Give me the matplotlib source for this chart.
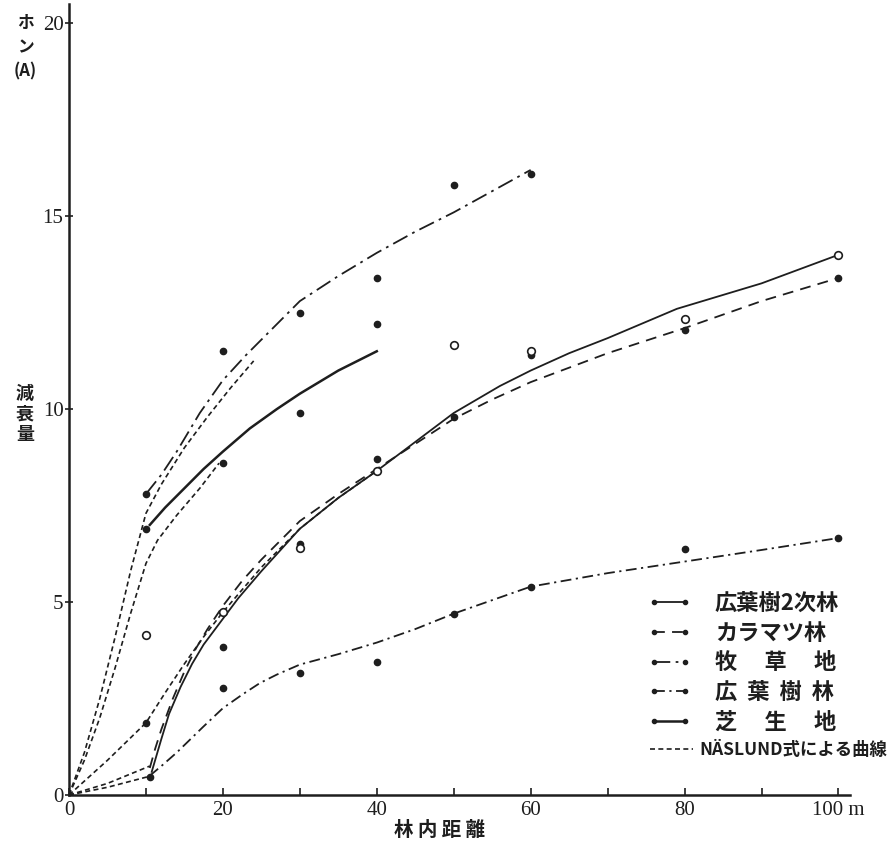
import matplotlib
matplotlib.use("Agg")
import matplotlib.pyplot as plt
from matplotlib.lines import Line2D

plt.rcParams['font.family'] = ['Noto Sans CJK JP', 'DejaVu Sans']

# ---------------- data ----------------
# measured points
top_x = [10, 20, 30, 40, 50, 60]                      # 牧草地
top_y = [7.8, 11.5, 12.5, 13.4, 15.8, 16.1]
shiba_x = [10, 20, 30, 40]                            # 芝生地
shiba_y = [6.9, 8.6, 9.9, 12.2]
niji_x = [10, 20, 30, 40, 50, 60, 80, 100]            # 広葉樹2次林 (open circles)
niji_y = [4.15, 4.74, 6.4, 8.4, 11.66, 11.5, 12.33, 14.0]
kara_x = [10, 20, 30, 40, 50, 60, 80, 100]            # カラマツ林
kara_y = [1.87, 3.84, 6.5, 8.7, 9.8, 11.4, 12.05, 13.4]
kouyou_x = [10.5, 20, 30, 40, 50, 60, 80, 100]        # 広葉樹林
kouyou_y = [0.47, 2.77, 3.16, 3.45, 4.7, 5.4, 6.37, 6.66]

# drawn curves
c_top_x = [10, 12, 14, 17, 20, 23, 26, 30, 35, 40, 45, 50, 55, 60]
c_top_y = [7.8, 8.3, 8.9, 9.9, 10.75, 11.4, 12.0, 12.8, 13.45, 14.05, 14.6, 15.1, 15.65, 16.2]
c_shiba_x = [10.5, 12.5, 15, 17.5, 20, 23.5, 27, 30, 35, 40]
c_shiba_y = [7.0, 7.45, 7.95, 8.45, 8.9, 9.5, 10.0, 10.4, 11.0, 11.5]
c_niji_x = [10.75, 12, 13, 14.5, 16, 17.5, 19, 22, 25, 30, 35, 40, 45, 50, 56, 60, 65, 70, 79, 90, 100]
c_niji_y = [0.6, 1.45, 2.1, 2.8, 3.4, 3.9, 4.3, 5.1, 5.8, 6.9, 7.7, 8.4, 9.15, 9.9, 10.6, 11.0, 11.45, 11.84, 12.6, 13.26, 14.0]
c_kara_x = [10.5, 11.2, 12, 13.5, 15, 16.5, 18, 20, 22.5, 25, 30, 35, 40, 45, 50, 55, 60, 70, 80, 90, 100]
c_kara_y = [0.7, 1.2, 1.7, 2.5, 3.2, 3.8, 4.3, 4.9, 5.55, 6.1, 7.1, 7.8, 8.45, 9.1, 9.75, 10.25, 10.7, 11.45, 12.1, 12.8, 13.4]
c_kouyou_x = [10.5, 12, 14, 17.4, 20, 22.5, 24.8, 27, 30, 35, 40, 45, 50, 55, 60, 70, 80, 90, 100]
c_kouyou_y = [0.5, 0.75, 1.1, 1.76, 2.25, 2.6, 2.9, 3.12, 3.38, 3.65, 3.95, 4.3, 4.7, 5.05, 5.4, 5.75, 6.05, 6.35, 6.66]

# NÄSLUND curves
n1_x = [0, 2, 4, 6, 8, 10, 12, 15, 18, 21, 24]
n1_y = [0, 1.1, 2.5, 4.1, 5.8, 7.3, 8.05, 9.0, 9.8, 10.55, 11.25]
n2_x = [0, 2, 4, 6, 8, 10, 11.5, 14, 17, 19.5]
n2_y = [0, 0.9, 2.0, 3.3, 4.7, 6.0, 6.6, 7.25, 7.95, 8.6]
n3_x = [0, 5, 10, 12.5, 15, 17.5, 20, 25, 30, 35, 40]
n3_y = [0, 0.9, 1.87, 2.65, 3.4, 4.1, 4.74, 5.9, 6.9, 7.7, 8.4]
n4_x = [0, 5, 10.5]
n4_y = [0, 0.3, 0.75]
n5_x = [0, 5, 10.75]
n5_y = [0, 0.2, 0.5]

x_ticks = [0, 10, 20, 30, 40, 50, 60, 70, 80, 90, 100]
x_ticklabels = ['0', '', '20', '', '40', '', '60', '', '80', '', '100 m']
y_ticks = [0, 5, 10, 15, 20]
y_ticklabels = ['0', '5', '10', '15', '20']

legend_labels = ['広葉樹2次林', 'カラマツ林', '牧 　草　 地', '広  葉  樹  林', '芝　 生　 地']
naslund_label = 'NÄSLUND式による曲線'

# ---------------- figure ----------------
ink = '#1e1e1e'
fig = plt.figure(figsize=(8.9, 8.48), dpi=100)
ax = fig.add_axes([69/890, 53/848, 781/890, 791/848])
ax.set_xlim(0, 101.5)
ax.set_ylim(0, 20.5)

dashdot = (0, (9, 3, 1.5, 3))
dashdot2 = (0, (6, 2.5, 1.2, 2.5))
dashed = (0, (6, 4))
nas = (0, (3, 2))

ax.plot(c_top_x, c_top_y, color=ink, lw=1.3, ls=dashdot)
ax.plot(c_shiba_x, c_shiba_y, color=ink, lw=1.8, ls='-')
ax.plot(c_niji_x, c_niji_y, color=ink, lw=1.3, ls='-')
ax.plot(c_kara_x, c_kara_y, color=ink, lw=1.3, ls=dashed)
ax.plot(c_kouyou_x, c_kouyou_y, color=ink, lw=1.3, ls=dashdot2)
for nx, ny in [(n1_x, n1_y), (n2_x, n2_y), (n3_x, n3_y), (n4_x, n4_y), (n5_x, n5_y)]:
    ax.plot(nx, ny, color=ink, lw=1.2, ls=nas)

ms = 4.5
ax.plot(top_x, top_y, 'o', color=ink, ms=ms, ls='none')
ax.plot(shiba_x, shiba_y, 'o', color=ink, ms=ms, ls='none')
ax.plot(kara_x, kara_y, 'o', color=ink, ms=ms, ls='none')
ax.plot(kouyou_x, kouyou_y, 'o', color=ink, ms=ms, ls='none')
ax.plot(niji_x, niji_y, 'o', mfc='white', mec=ink, mew=1.2, ms=5.5, ls='none')

for s in ['top', 'right']:
    ax.spines[s].set_visible(False)
for s in ['left', 'bottom']:
    ax.spines[s].set_linewidth(1.8)
    ax.spines[s].set_color(ink)

ax.set_xticks(x_ticks)
ax.set_xticklabels(x_ticklabels, family='Liberation Serif', fontsize=15, color=ink)
ax.set_yticks(y_ticks)
ax.set_yticklabels(y_ticklabels, family='Liberation Serif', fontsize=15, color=ink)
ax.tick_params(axis='x', direction='in', length=5, width=1.2, pad=4, colors=ink)
ax.tick_params(axis='y', direction='inout', length=6, width=1.2, pad=1, colors=ink)

# axis titles
fig.text(440/890, 1 - 830/848, '林 内 距 離', ha='center', va='center', fontsize=14, weight='bold', color=ink)
fig.text(25/890, 1 - 414/848, '減\n衰\n量', ha='center', va='center', fontsize=13, weight='bold', color=ink, linespacing=1.1)
fig.text(25/890, 1 - 47/848, 'ホ\nン\n(A)', ha='center', va='center', fontsize=12, weight='bold', color=ink, linespacing=1.45)

# legend
styles = [('-', 1.3), (dashed, 1.3), (dashdot, 1.3), (dashdot2, 1.3), ('-', 1.8)]
handles = [Line2D([], [], color=ink, ls=ls, lw=lw, marker='o', ms=3) for ls, lw in styles]
leg = fig.legend(handles, legend_labels, loc='upper left', bbox_to_anchor=(647/890, 1 - 592/848),
                 frameon=False, numpoints=2, handlelength=2.0, handletextpad=1.05,
                 labelspacing=0.3, borderpad=0, borderaxespad=0,
                 prop={'family': ['Noto Sans CJK JP', 'DejaVu Sans'], 'size': 16, 'weight': 'bold'})
for t in leg.get_texts():
    t.set_color(ink)

leg2 = fig.legend([Line2D([], [], color=ink, ls=nas, lw=1.2)], [naslund_label], loc='upper left',
                  bbox_to_anchor=(650/890, 1 - 741/848), frameon=False, handlelength=2.5,
                  handletextpad=0.35, borderpad=0, borderaxespad=0,
                  prop={'family': ['Noto Sans CJK JP', 'DejaVu Sans'], 'size': 12.5, 'weight': 'bold'})
for t in leg2.get_texts():
    t.set_color(ink)

fig.savefig('out.png', dpi=100, facecolor='white')
